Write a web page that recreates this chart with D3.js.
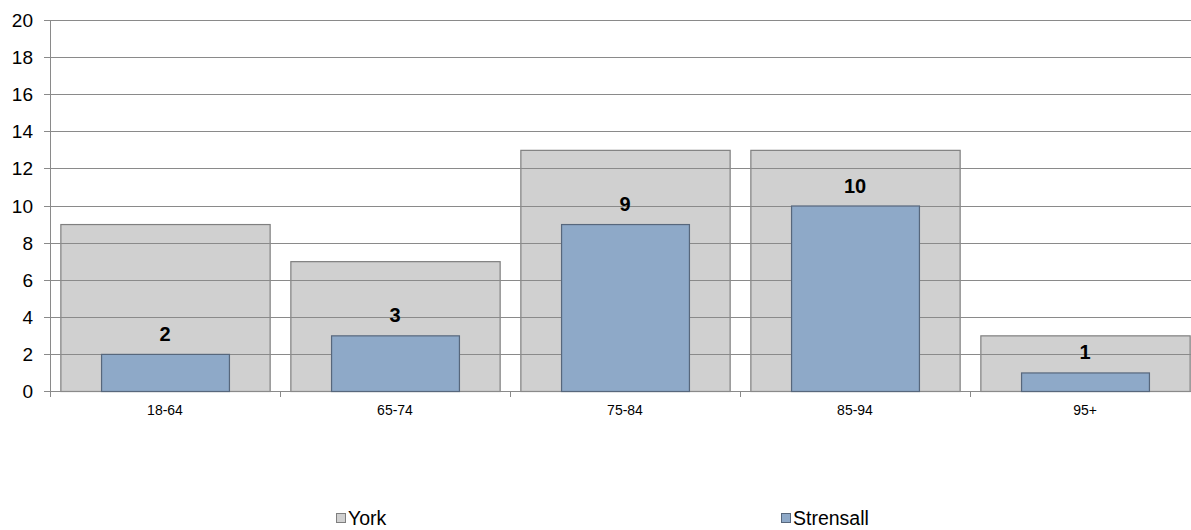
<!DOCTYPE html>
<html><head><meta charset="utf-8">
<script src="https://cdn.jsdelivr.net/npm/d3@7"></script>
<style>body{margin:0;background:#fff;} svg{display:block;font-family:"Liberation Sans",Arial,sans-serif;}</style>
</head><body>
<svg id="c" width="1191" height="530"></svg>
<script>
const categories = ["18-64","65-74","75-84","85-94","95+"];
const york = [9,7,13,13,3];
const strensall = [2,3,9,10,1];
const yTicks = [0,2,4,6,8,10,12,14,16,18,20];
const seriesNames = ["York","Strensall"];

const svg = d3.select("#c");
const pLeft = 50, pRight = 1200, pTop = 20, pBottom = 391;
const x = d3.scaleBand().domain(categories).range([pLeft,pRight]).paddingInner(0).paddingOuter(0);
const y = d3.scaleLinear().domain([0,20]).range([pBottom,pTop]);

// York bars
const yw = x.bandwidth()*0.91;
svg.append("g").selectAll("rect").data(categories).join("rect")
  .attr("x",(d)=>x(d)+(x.bandwidth()-yw)/2+0.5)
  .attr("y",(d,i)=>y(york[i])+0.5)
  .attr("width",yw)
  .attr("height",(d,i)=>y(0)-y(york[i]))
  .attr("fill","#d0d0d0").attr("stroke","#7f7f7f").attr("stroke-width",1.2);

// gridlines
svg.append("g").selectAll("line").data(yTicks).join("line")
  .attr("x1",pLeft-6).attr("x2",pRight)
  .attr("y1",d=>Math.round(y(d))+0.5).attr("y2",d=>Math.round(y(d))+0.5)
  .attr("stroke","#8a8a8a").attr("stroke-width",1);

// Strensall bars
const sw = x.bandwidth()*0.556;
svg.append("g").selectAll("rect").data(categories).join("rect")
  .attr("x",(d)=>x(d)+(x.bandwidth()-sw)/2+0.5)
  .attr("y",(d,i)=>y(strensall[i])+0.5)
  .attr("width",sw)
  .attr("height",(d,i)=>y(0)-y(strensall[i]))
  .attr("fill","#8ea9c8").attr("stroke","#57677c").attr("stroke-width",1.2);

// value labels
svg.append("g").selectAll("text").data(categories).join("text")
  .attr("x",d=>x(d)+x.bandwidth()/2)
  .attr("y",(d,i)=>y(strensall[i])-13)
  .attr("text-anchor","middle").attr("font-size",20).attr("font-weight","bold").attr("fill","#000")
  .text((d,i)=>strensall[i]);

// y axis
svg.append("line").attr("x1",pLeft+0.5).attr("x2",pLeft+0.5).attr("y1",pTop).attr("y2",pBottom+1)
  .attr("stroke","#8a8a8a");
svg.append("g").selectAll("text").data(yTicks).join("text")
  .attr("x",33).attr("y",d=>y(d)+7)
  .attr("text-anchor","end").attr("font-size",19).attr("fill","#000").text(d=>d);

// x axis ticks
svg.append("g").selectAll("line").data(categories.slice(1)).join("line")
  .attr("x1",d=>Math.round(x(d))+0.5).attr("x2",d=>Math.round(x(d))+0.5)
  .attr("y1",pBottom).attr("y2",pBottom+6).attr("stroke","#8a8a8a");
svg.append("line").attr("x1",pLeft+0.5).attr("x2",pLeft+0.5).attr("y1",pBottom).attr("y2",pBottom+6).attr("stroke","#8a8a8a");
svg.append("g").selectAll("text").data(categories).join("text")
  .attr("x",d=>x(d)+x.bandwidth()/2).attr("y",415)
  .attr("text-anchor","middle").attr("font-size",14).attr("fill","#000").text(d=>d);

// legend
const legX = [336,781];
const legFill = ["#d0d0d0","#8ea9c8"], legStroke=["#7f7f7f","#57677c"];
seriesNames.forEach((n,i)=>{
  svg.append("rect").attr("x",legX[i]+0.5).attr("y",513.5).attr("width",9).attr("height",9)
    .attr("fill",legFill[i]).attr("stroke",legStroke[i]);
  svg.append("text").attr("x",legX[i]+12).attr("y",525).attr("font-size",19.5).attr("fill","#000").text(n);
});
</script>
</body></html>
